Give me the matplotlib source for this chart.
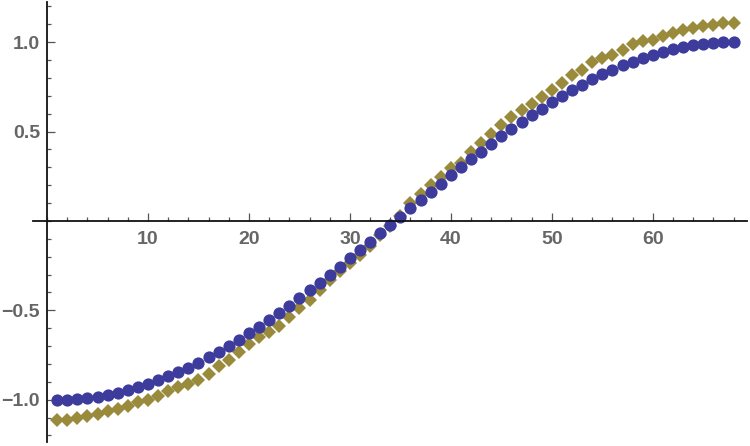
import matplotlib

matplotlib.use("Agg")
import matplotlib.pyplot as plt
from matplotlib.ticker import FixedLocator, MultipleLocator

# values
x_vals = list(range(1, 69))
circle_vals = [
    -1.000, -0.999, -0.996, -0.990, -0.983, -0.973, -0.961, -0.947, -0.931, -0.912,
    -0.892, -0.870, -0.846, -0.820, -0.792, -0.763, -0.732, -0.699, -0.665, -0.629,
    -0.592, -0.553, -0.513, -0.473, -0.431, -0.388, -0.345, -0.300, -0.255, -0.209,
    -0.163, -0.117, -0.070, -0.023, 0.023, 0.070, 0.117, 0.163, 0.209, 0.255,
    0.300, 0.345, 0.388, 0.431, 0.473, 0.513, 0.553, 0.592, 0.629, 0.665,
    0.699, 0.732, 0.763, 0.792, 0.820, 0.846, 0.870, 0.892, 0.912, 0.931,
    0.947, 0.961, 0.973, 0.983, 0.990, 0.996, 0.999, 1.000,
]
diamond_vals = [
    -1.114, -1.112, -1.104, -1.093, -1.079, -1.064, -1.051, -1.033, -1.013, -1.001,
    -0.981, -0.952, -0.929, -0.910, -0.890, -0.854, -0.812, -0.778, -0.731, -0.690,
    -0.650, -0.619, -0.586, -0.538, -0.489, -0.441, -0.385, -0.330, -0.279, -0.237,
    -0.190, -0.142, -0.080, -0.028, 0.030, 0.100, 0.153, 0.201, 0.248, 0.295,
    0.325, 0.385, 0.435, 0.486, 0.537, 0.584, 0.623, 0.654, 0.692, 0.733,
    0.771, 0.817, 0.845, 0.891, 0.910, 0.929, 0.957, 0.990, 1.005, 1.015,
    1.035, 1.052, 1.066, 1.080, 1.090, 1.099, 1.105, 1.110,
]
x_ticks = [10, 20, 30, 40, 50, 60]
y_ticks = [-1.0, -0.5, 0.5, 1.0]
y_tick_labels = ["\u22121.0", "\u22120.5", "0.5", "1.0"]

blue = "#3d3c9c"
gold = "#998a3c"
label_gray = "#666666"

fig = plt.figure(figsize=(7.5, 4.46), dpi=100)
ax = fig.add_axes([0.044, 0.0096, 0.9516, 0.9859])

ax.plot(x_vals, diamond_vals, linestyle="none", marker="D", markersize=7.0,
        markeredgewidth=0, color=gold)
ax.plot(x_vals, circle_vals, linestyle="none", marker="o", markersize=8.8,
        markeredgewidth=0, color=blue)

ax.set_xlim(-1.39, 69.3)
ax.set_ylim(-1.235, 1.225)

for side in ("top", "right"):
    ax.spines[side].set_visible(False)
for side in ("left", "bottom"):
    ax.spines[side].set_position(("data", 0))
    ax.spines[side].set_linewidth(1.3)
    ax.spines[side].set_color("#111111")

ax.xaxis.set_major_locator(FixedLocator(x_ticks))
ax.xaxis.set_minor_locator(MultipleLocator(2))
ax.yaxis.set_major_locator(FixedLocator(y_ticks))
ax.yaxis.set_minor_locator(MultipleLocator(0.1))
ax.set_xticklabels([str(t) for t in x_ticks])
ax.set_yticklabels(y_tick_labels)

ax.tick_params(which="major", direction="in", length=5.5, width=0.9,
               color="#555555", labelsize=14, labelcolor=label_gray)
ax.tick_params(which="minor", direction="in", length=3.2, width=0.9,
               color="#555555")
ax.tick_params(axis="x", which="major", pad=7.5)
ax.tick_params(axis="y", which="major", pad=5)
for lab in ax.get_xticklabels() + ax.get_yticklabels():
    lab.set_fontfamily(["Liberation Sans", "DejaVu Sans"])
    lab.set_fontweight("bold")

fig.savefig("out.png", dpi=100)
